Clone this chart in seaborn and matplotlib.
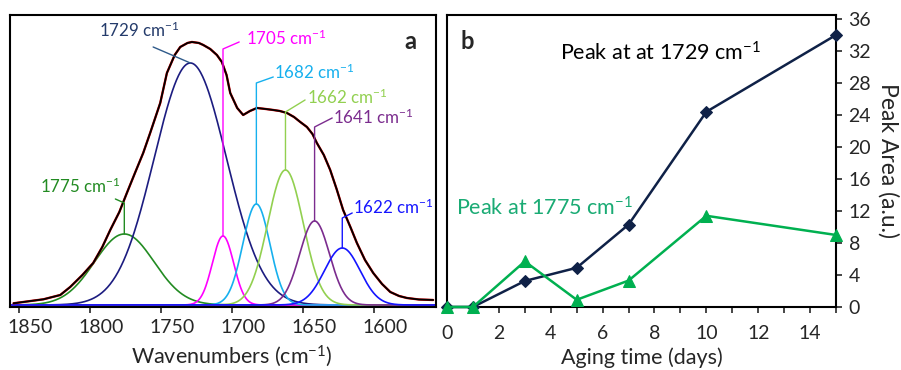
import numpy as np
import pandas as pd
import matplotlib
matplotlib.use("Agg")
import matplotlib.pyplot as plt
import matplotlib.transforms as mtrans
import seaborn as sns

wn = [1853.5, 1832.4, 1820.6, 1813.6, 1805, 1797.4, 1791, 1785.4, 1779, 1773.7,
      1768, 1762.2, 1757.3, 1750.2, 1745.5, 1740, 1736.1, 1731, 1727.9, 1723,
      1719.9, 1715, 1710.3, 1706.8, 1703.5, 1700.9, 1696, 1691.8, 1687, 1682.1,
      1676, 1670.6, 1666, 1661.0, 1656, 1651.6, 1646.9, 1643, 1639.9, 1635,
      1630.5, 1626, 1621.4, 1616, 1611.7, 1606, 1600.2, 1594, 1588.2, 1582,
      1576.5, 1568, 1558]
absorb = [0.017, 0.057, 0.10, 0.18, 0.30, 0.42, 0.58, 0.75, 0.93, 1.12,
          1.32, 1.52, 1.72, 2.02, 2.32, 2.50, 2.58, 2.62, 2.63, 2.62,
          2.60, 2.56, 2.50, 2.43, 2.30, 2.12, 1.97, 1.90, 1.94, 1.97,
          1.96, 1.95, 1.94, 1.92, 1.88, 1.83, 1.78, 1.71, 1.62, 1.50,
          1.35, 1.16, 0.95, 0.77, 0.62, 0.45, 0.32, 0.21, 0.13, 0.09,
          0.07, 0.055, 0.05]

# fitted gaussian bands: centre, height, sigma
band_labels = ["1775", "1729", "1705", "1682", "1662", "1641", "1622"]
band_centre = [1775.5, 1729.0, 1706.0, 1682.5, 1662.0, 1641.5, 1622.0]
band_height = [0.71, 2.42, 0.69, 1.01, 1.35, 0.84, 0.57]
band_sigma = [21.0, 25.5, 7.5, 9.5, 12.5, 10.5, 12.5]

# ---- panel b: peak area vs aging time
days = [0, 1, 3, 5, 7, 10, 15]
area_1729 = [0, 0, 3.25, 4.9, 10.3, 24.4, 34.0]
area_1775 = [0, 0, 5.7, 0.9, 3.3, 11.4, 9.0]

# styling / layout
band_colors = ["#228b22", "#1c1c80", "#ff00ff", "#16b0ee", "#92d050", "#7b2c8e", "#1515ff"]
text_colors = ["#228b22", "#243b6b", "#ff00ff", "#16b0ee", "#92d050", "#7b2c8e", "#1515ff"]
# (knee height, end x, end y, text x, text y) in data units
leader = [(1.02, 1781.8, 1.06, 1834.7, 1.19),
          (None, 1755.2, 2.58, 1793.2, 2.75),
          (2.56, 1694.6, 2.63, 1689.6, 2.67),
          (2.22, 1670.6, 2.28, 1669.9, 2.33),
          (1.93, 1648.2, 2.05, 1646.7, 2.08),
          (1.78, 1629.1, 1.87, 1628.4, 1.88),
          (0.87, 1615.0, 0.92, 1614.3, 0.98)]

sns.set_style("white")
plt.rcParams["font.family"] = ["Lato", "DejaVu Sans"]
plt.rcParams["mathtext.fontset"] = "custom"
plt.rcParams["mathtext.rm"] = "Lato"
plt.rcParams["mathtext.default"] = "regular"

fig = plt.figure(figsize=(9.01, 3.70), dpi=100)
ax1 = fig.add_axes([0.0111, 0.1703, 0.4728, 0.7892])
ax2 = fig.add_axes([0.4961, 0.1703, 0.4318, 0.7892])

# ---- panel a
grid = np.linspace(1870, 1540, 700)
for c, h, s, col in zip(band_centre, band_height, band_sigma, band_colors):
    sns.lineplot(x=grid, y=h * np.exp(-(grid - c) ** 2 / (2 * s ** 2)), ax=ax1,
                 color=col, lw=1.2, sort=False)
spec = pd.DataFrame({"wn": wn, "a": absorb})
sns.lineplot(data=spec, x="wn", y="a", ax=ax1, color="#e00000", lw=1.7, sort=False)
sns.lineplot(data=spec, x="wn", y="a", ax=ax1, color="black", lw=1.3, sort=False)

for lab, c, h, col, tcol, (knee, ex, ey, tx, ty) in zip(
        band_labels, band_centre, band_height, band_colors, text_colors, leader):
    if knee is None:
        xs, ys = [c, ex], [h, ey]
    else:
        xs, ys = [c, c, ex], [h, knee, ey]
    ax1.plot(xs, ys, color="#2f5a8a" if lab == "1729" else col, lw=1.0)
    ax1.text(tx, ty, lab + " cm$^{-1}$", color=tcol, fontsize=12.2, va="center", ha="left")

ax1.set_xlim(1856, 1556)
ax1.set_ylim(-0.02, 2.90)
ax1.set_yticks([])
ax1.set_xticks([1850, 1800, 1750, 1700, 1650, 1600])
ax1.tick_params(axis="x", direction="out", length=4, width=1.2, labelsize=14, pad=5,
                bottom=True)
# the original figure draws these labels a little right of their tick marks
shift = mtrans.ScaledTranslation(12 / 100, 0, fig.dpi_scale_trans)
for t in ax1.get_xticklabels():
    t.set_transform(t.get_transform() + shift)
ax1.set_xlabel("Wavenumbers (cm$^{-1}$)", fontsize=15.5)
ax1.xaxis.set_label_coords(0.52, -0.125)
ax1.set_ylabel("")
ax1.text(0.955, 0.95, "a", transform=ax1.transAxes, fontsize=17, fontweight="bold",
         ha="right", va="top")

# ---- panel b
sns.lineplot(x=days, y=area_1729, ax=ax2, color="#0f2147", lw=1.8, marker="D",
             markersize=6, markeredgecolor="#0f2147", clip_on=False, zorder=4)
sns.lineplot(x=days, y=area_1775, ax=ax2, color="#00b050", lw=1.8, marker="^",
             markersize=8, markeredgecolor="#00b050", clip_on=False, zorder=5)
ax2.text(4.36, 31.7, "Peak at at 1729 cm$^{-1}$", color="black", fontsize=15.5, va="center")
ax2.text(0.35, 12.4, "Peak at 1775 cm$^{-1}$", color="#1aab74", fontsize=15.5, va="center")

ax2.set_xlim(0, 15)
ax2.set_ylim(0, 36.5)
ax2.set_xticks(range(0, 15, 2))
ax2.set_xticks(range(0, 16), minor=True)
ax2.set_yticks(range(0, 37, 4))
ax2.yaxis.tick_right()
ax2.yaxis.set_label_position("right")
ax2.tick_params(axis="both", which="both", direction="out", length=4, width=1.2,
                labelsize=14)
ax2.tick_params(axis="x", which="both", bottom=True, pad=9)
ax2.tick_params(axis="y", which="both", right=True, left=False, pad=5)
ax2.set_xlabel("Aging time (days)", fontsize=15.5, labelpad=4)
ax2.set_ylabel("Peak Area (a.u.)", fontsize=16.5, rotation=270, labelpad=20)
ax2.text(0.035, 0.95, "b", transform=ax2.transAxes, fontsize=17, fontweight="bold",
         ha="left", va="top")

for ax in (ax1, ax2):
    for sp in ax.spines.values():
        sp.set_color("black")
        sp.set_linewidth(1.5)

fig.savefig("out.png", dpi=100)
